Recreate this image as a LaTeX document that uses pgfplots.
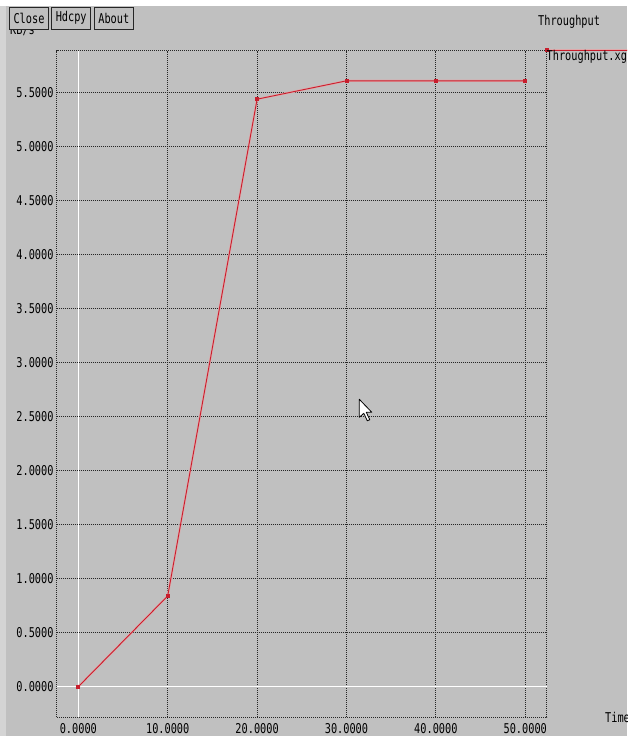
\documentclass[border=0pt]{standalone}
\usepackage{fontspec}
\usepackage{pgfplots}
\pgfplotsset{compat=1.18}
\newfontfamily\xgfont[FakeStretch=0.76]{DejaVu Sans Mono}
\newcommand\xg{\xgfont\fontsize{13.5}{15}\selectfont}
\definecolor{bggray}{RGB}{192,192,192}
\definecolor{lineRed}{RGB}{200,30,45}
\definecolor{halo}{RGB}{224,168,170}
\definecolor{leftstrip}{RGB}{212,212,212}
\begin{document}
\begin{tikzpicture}[x=1pt,y=1pt]
\useasboundingbox (0,0) rectangle (627,736);
\clip (0,0) rectangle (627,736);
\fill[bggray] (0,0) rectangle (627,736);
\fill[white] (0,729.5) rectangle (627,736);
\fill[leftstrip] (0,0) rectangle (6,729.5);
% y-axis unit label (partly hidden by buttons)
\node[anchor=base west, inner sep=0pt] at (10,701) {\xg KB/s};
% buttons
\draw[fill=bggray, draw=black!85, line width=0.9pt] (9.5,707) rectangle (48.5,728.7);
\node[inner sep=0pt] at (29,718) {\xg Close};
\draw[fill=bggray, draw=black!85, line width=0.9pt] (51.7,707) rectangle (90.7,728.7);
\node[inner sep=0pt] at (71.2,718) {\xg Hdcpy};
\draw[fill=bggray, draw=black!85, line width=0.9pt] (94.3,707) rectangle (133.3,728.7);
\node[inner sep=0pt] at (113.8,718) {\xg About};
% title and x label
\node[anchor=base west, inner sep=0pt] at (538,710) {\xg Throughput};
\node[anchor=base west, inner sep=0pt] at (605,13) {\xg Time};
\begin{axis}[
  at={(56.7pt,19pt)}, anchor=south west,
  scale only axis, width=490pt, height=666.3pt,
  xmin=-2.42, xmax=52.4, ymin=-0.281, ymax=5.889,
  xtick={10,20,30,40,50},
  ytick={0.5,1,1.5,2,2.5,3,3.5,4,4.5,5,5.5},
  extra x ticks={0}, extra y ticks={0},
  extra tick style={major grid style={white, solid, line width=1.3pt}},
  grid=major,
  major grid style={black!85, line width=0.75pt, dash pattern=on 0.8pt off 1.2pt},
  axis line style={black!85, line width=0.75pt, dash pattern=on 0.8pt off 1.2pt},
  major tick length=0pt,
  axis background/.style={fill=bggray},
  /pgf/number format/fixed, /pgf/number format/zerofill,
  /pgf/number format/precision=4, /pgf/number format/1000 sep={},
  /pgf/number format/assume math mode=true,
  ticklabel style={font=\xg, text=black},
  xticklabel style={anchor=north, inner sep=0pt, yshift=-6pt},
  yticklabel style={anchor=east, inner sep=0pt, xshift=-3pt},
  legend style={at={(1,1)}, anchor=north west, draw=none, fill=none,
    inner sep=0pt, outer sep=0pt, font=\xg,
    nodes={inner sep=0pt, anchor=base west}},
  legend image code/.code={
    \draw[overlay, halo, line width=2.2pt] (0pt,11pt) -- (90pt,11pt);
    \draw[overlay, lineRed, line width=0.9pt] (0pt,11pt) -- (90pt,11pt);
    \fill[overlay, lineRed] (-1.5pt,9.5pt) rectangle (1.5pt,12.5pt);
  },
]
\addplot[halo, line width=2.2pt, forget plot] coordinates
  {(0,0) (10,0.84) (20,5.44) (30,5.61) (40,5.61) (50,5.61)};
\addplot[lineRed, line width=0.9pt, mark=square*, mark size=1.5pt,
  mark options={solid, fill=lineRed}] coordinates
  {(0,0) (10,0.84) (20,5.44) (30,5.61) (40,5.61) (50,5.61)};
\addlegendentry{Throughput.xg}
\end{axis}
% mouse pointer
\draw[black, fill=white, line width=0.8pt, line join=round]
  (359.3,336.7) -- ++(0,-18) -- ++(4.5,4) -- ++(3.5,-7.5) -- ++(2.5,1)
  -- ++(-3.5,7.5) -- ++(5.5,0) -- cycle;
\end{tikzpicture}
\end{document}
